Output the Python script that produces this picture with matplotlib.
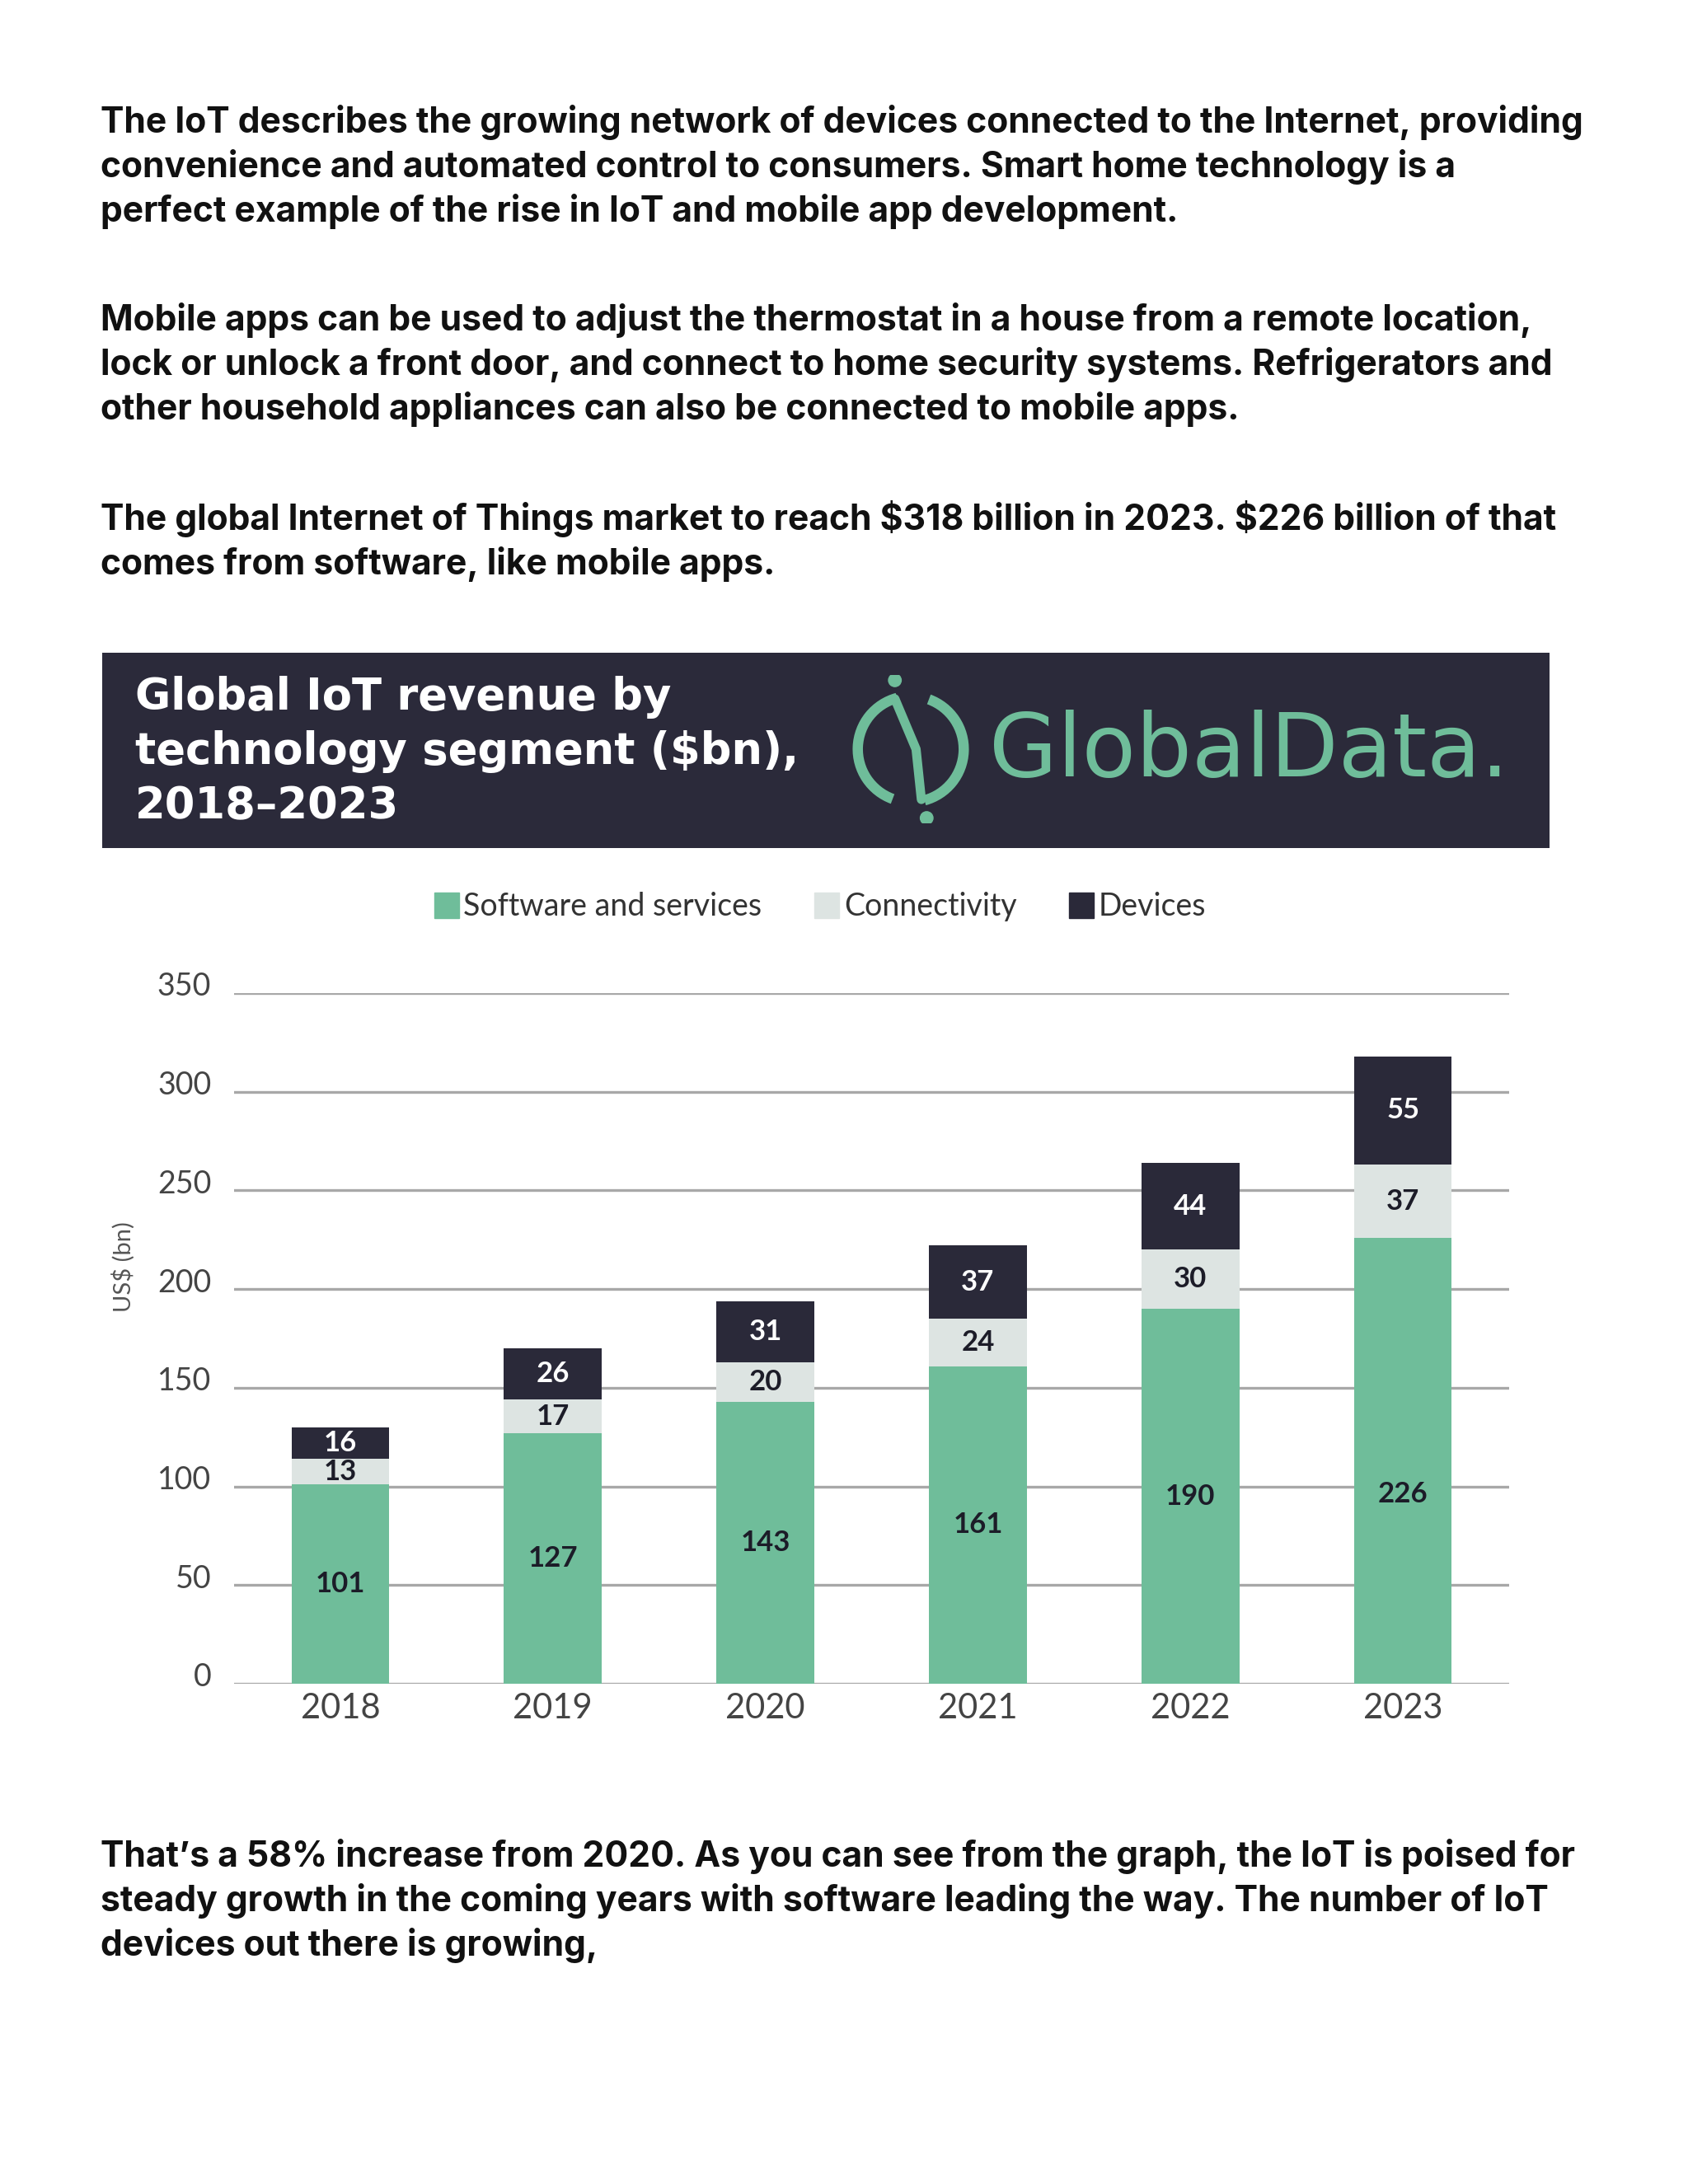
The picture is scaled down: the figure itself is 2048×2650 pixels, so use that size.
import matplotlib
matplotlib.use("Agg")
import matplotlib.pyplot as plt
import matplotlib.transforms as mtransforms
from matplotlib.patches import Rectangle, Arc, Circle, Patch
import numpy as np

plt.rcParams["text.parse_math"] = False

years = ["2018", "2019", "2020", "2021", "2022", "2023"]
software = [101, 127, 143, 161, 190, 226]
connectivity = [13, 17, 20, 24, 30, 37]
devices = [16, 26, 31, 37, 44, 55]
yticks = [0, 50, 100, 150, 200, 250, 300, 350]

para1 = ["The IoT describes the growing network of devices connected to the Internet, providing",
         "convenience and automated control to consumers. Smart home technology is a",
         "perfect example of the rise in IoT and mobile app development."]
para2 = ["Mobile apps can be used to adjust the thermostat in a house from a remote location,",
         "lock or unlock a front door, and connect to home security systems. Refrigerators and",
         "other household appliances can also be connected to mobile apps."]
para3 = ["The global Internet of Things market to reach $318 billion in 2023. $226 billion of that",
         "comes from software, like mobile apps."]
para4 = ["That\u2019s a 58% increase from 2020. As you can see from the graph, the IoT is poised for",
         "steady growth in the coming years with software leading the way. The number of IoT",
         "devices out there is growing,"]

GREEN = "#6fbd9a"
LIGHT = "#dde4e2"
DARK = "#2a2939"
HEAD = "#2b2a3a"

W, H = 2048, 2650
fig = plt.figure(figsize=(W / 100, H / 100), dpi=100)
fig.patch.set_facecolor("white")

def para(lines, y0):
    # y0 = pixel from top of first line centre, 54 px per line
    for i, s in enumerate(lines):
        fig.text(122 / W, 1 - (y0 + 54 * i) / H, s, fontsize=30.7, fontweight="bold",
                 family=["Inter", "DejaVu Sans"], color="#111111", va="center", ha="left")

para(para1, 149)
para(para2, 389)
para(para3, 630)
para(para4, 2253)

# header banner
fig.patches.append(Rectangle((124 / W, 1 - 1029 / H), (1880 - 124) / W, 237 / H,
                             transform=fig.transFigure, facecolor=HEAD, edgecolor="none", zorder=-5))
for i, s in enumerate(["Global IoT revenue by", "technology segment ($bn),", "2018\u20132023"]):
    fig.text(164 / W, 1 - (846 + 66 * i) / H, s, fontsize=38, fontweight="bold",
             family=["DejaVu Sans"], color="white", va="center", ha="left")
fig.text(1200 / W, 1 - 912 / H, "GlobalData.", fontsize=77, family=["DejaVu Sans"],
         color=GREEN, va="center", ha="left")

# logo mark
lax = fig.add_axes([(1105 - 90) / W, 1 - (909 + 90) / H, 180 / W, 180 / H])
lax.set_xlim(-1.4, 1.4)
lax.set_ylim(-1.4, 1.4)
lax.set_aspect("equal")
lax.axis("off")
lax.patch.set_visible(False)
lax.add_patch(Arc((0, 0), 2, 2, theta1=105, theta2=250, color=GREEN, lw=9))
lax.add_patch(Arc((0, 0), 2, 2, theta1=-75, theta2=70, color=GREEN, lw=9))
lax.plot([-0.3, 0.1, 0.2], [0.95, 0.0, -0.95], color=GREEN, lw=8, solid_capstyle="round")
lax.add_patch(Circle((-0.3, 1.3), 0.12, color=GREEN))
lax.add_patch(Circle((0.3, -1.3), 0.12, color=GREEN))

# chart
ax = fig.add_axes([284 / W, 1 - 2043 / H, (1831 - 284) / W, (2043 - 1205) / H])
x = np.arange(len(years))
bw = 0.46
ax.bar(x, software, bw, color=GREEN, zorder=3)
ax.bar(x, connectivity, bw, bottom=software, color=LIGHT, zorder=3)
bot3 = [a + b for a, b in zip(software, connectivity)]
ax.bar(x, devices, bw, bottom=bot3, color=DARK, zorder=3)

lab = dict(ha="center", va="center", fontsize=25, fontweight="bold", family=["Lato", "DejaVu Sans"], zorder=4)
for i in range(len(years)):
    ax.text(x[i], min(software[i] / 2, 96), str(software[i]), color="#1c1c28", **lab)
    ax.text(x[i], software[i] + connectivity[i] / 2, str(connectivity[i]), color="#1c1c28", **lab)
    ax.text(x[i], bot3[i] + devices[i] / 2, str(devices[i]), color="white", **lab)

ax.set_xlim(-0.5, 5.5)
ax.set_ylim(0, 350)
ax.set_yticks(yticks)
ax.set_xticks(x)
ax.set_xticklabels(years)
ax.grid(axis="y", color="#a8a8a8", lw=2.4, zorder=1)
for sp in ax.spines.values():
    sp.set_visible(False)
ax.tick_params(axis="both", length=0)
ax.tick_params(axis="y", pad=20, labelsize=27, labelcolor="#444444")
ax.tick_params(axis="x", pad=8, labelsize=30, labelcolor="#444444")
shift = mtransforms.ScaledTranslation(0, 0.11, fig.dpi_scale_trans)
for t in ax.get_yticklabels():
    t.set_transform(t.get_transform() + shift)
for t in ax.get_xticklabels() + ax.get_yticklabels():
    t.set_family(["Lato", "DejaVu Sans"])
fig.text(150 / W, 1 - 1537 / H, "US$ (bn)", rotation=90, fontsize=21, color="#555555",
         family=["Lato", "DejaVu Sans"], ha="center", va="center")

handles = [Patch(color=GREEN), Patch(color=LIGHT), Patch(color=DARK)]
fig.legend(handles, ["Software and services", "Connectivity", "Devices"], ncol=3,
           loc="center", bbox_to_anchor=(995 / W, 1 - 1100 / H), frameon=False,
           handlelength=0.8, handleheight=0.9, handletextpad=0.15, columnspacing=1.7,
           prop={"family": ["Lato", "DejaVu Sans"], "size": 27}, labelcolor="#333333")

fig.savefig("out.png", dpi=100)
